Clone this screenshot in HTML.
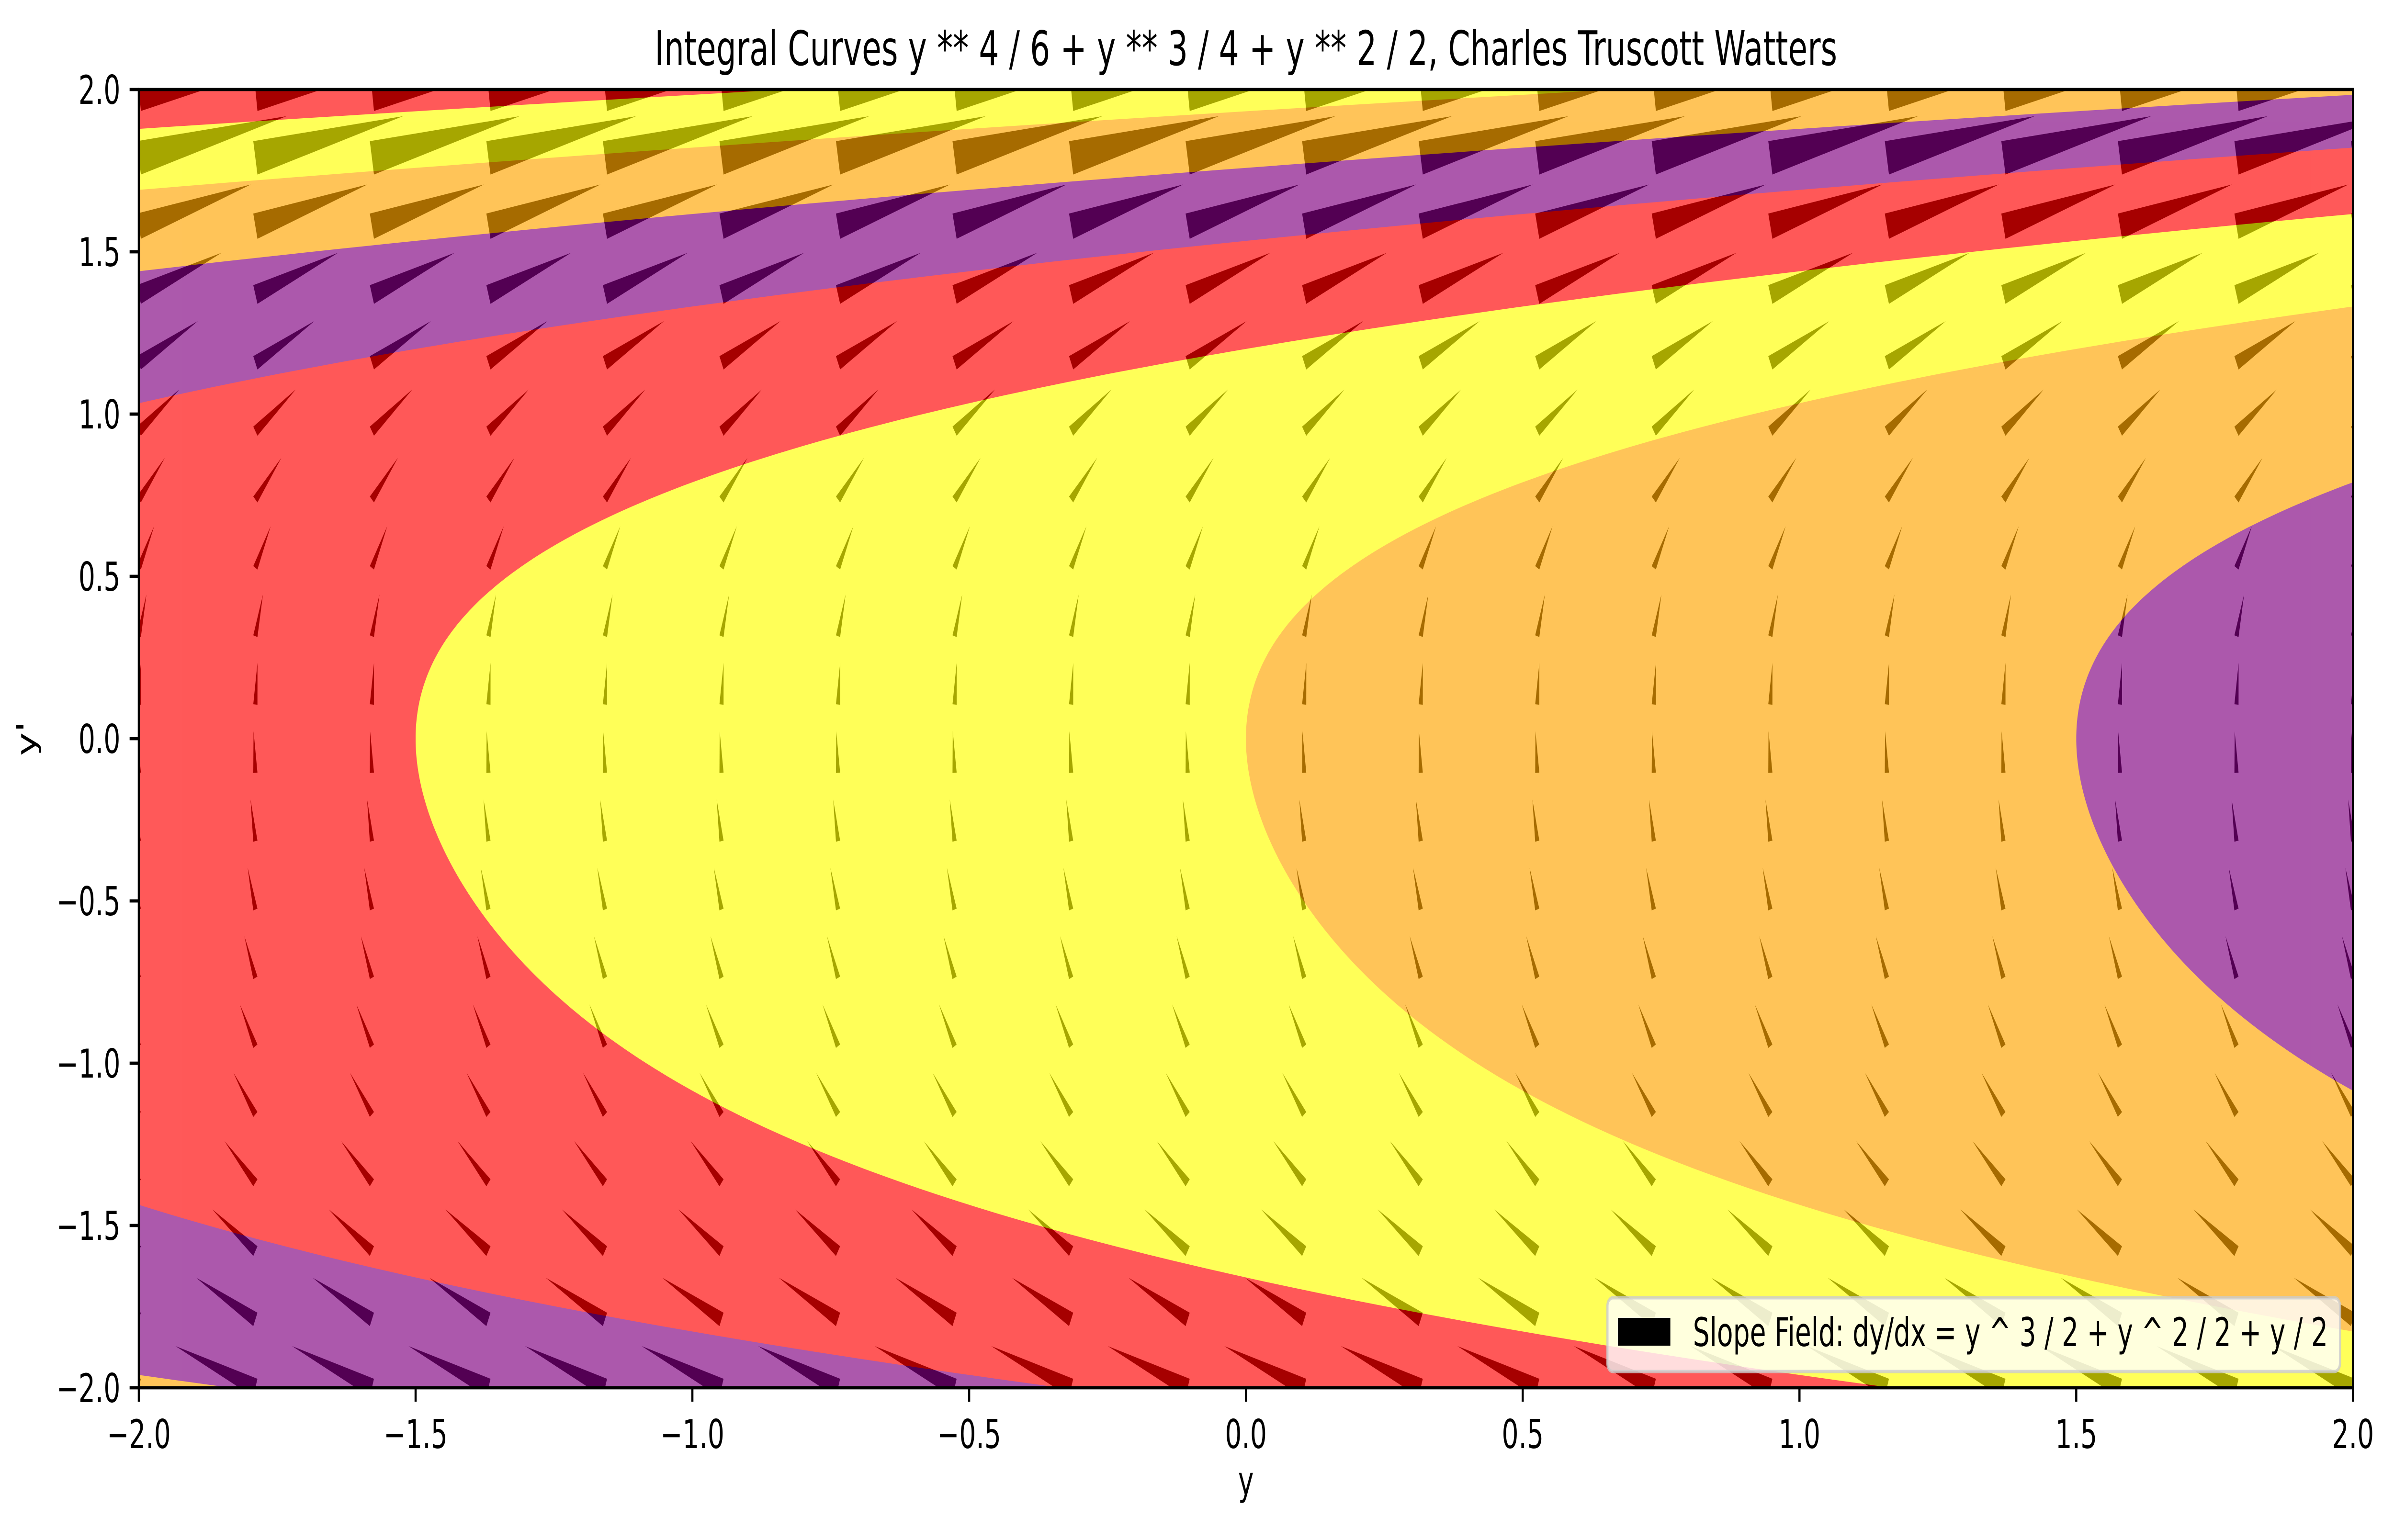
<!DOCTYPE html>
<html><head><meta charset="utf-8"><style>
html,body{margin:0;padding:0;background:#fff;width:100vw;height:100vh;overflow:hidden;}
svg{display:block;width:100vw;height:100vh;font-family:"DejaVu Sans","Liberation Sans",sans-serif;}
</style></head><body>
<svg id="chart" xmlns="http://www.w3.org/2000/svg" viewBox="0 0 7536 3217" preserveAspectRatio="none">
<defs><clipPath id="plotclip"><rect x="437" y="187" width="6970" height="2712"/></clipPath></defs>
<rect x="0" y="0" width="7536" height="3217" fill="#ffffff"/>
<g id="plot" clip-path="url(#plotclip)">
<rect x="437" y="187" width="6970" height="2712" fill="#ffffff"/>
<g id="arrows"></g>
<g id="bands" opacity="0.65"></g>
</g>
<g id="axes"></g>
<text x="3922" y="136" font-size="100" text-anchor="middle">Integral Curves y ** 4 / 6 + y ** 3 / 4 + y ** 2 / 2, Charles Truscott Watters</text>
<text x="3922" y="3122" font-size="83" text-anchor="middle">y</text>
<text x="0" y="0" font-size="83" text-anchor="middle" transform="translate(112,1543) rotate(-90)">y'</text>
<g>
<rect x="5060" y="2711" width="2306" height="154" rx="17" fill="#ffffff" fill-opacity="0.8" stroke="#cccccc" stroke-opacity="0.8" stroke-width="7"/>
<rect x="5093" y="2753" width="165" height="58" fill="#000000"/>
<text x="5329" y="2812" font-size="83">Slope Field: dy/dx = y ^ 3 / 2 + y ^ 2 / 2 + y / 2</text>
</g>
</svg>
<script>
// ---- data ----
const levels = [-3, -1.5, 0, 1.5, 3, 4.5, 6, 7.5, 9];
const bandColors = ["#800080", "#ffa500", "#ffff00", "#ff0000", "#800080", "#ffa500", "#ffff00", "#ff0000"];
const polyCoeffs = [1/6, 1/4, 1/2]; // y^4/6 + y^3/4 + y^2/2
const gridCount = 20;
const xTicks = [-2.0, -1.5, -1.0, -0.5, 0.0, 0.5, 1.0, 1.5, 2.0];
const yTicks = [-2.0, -1.5, -1.0, -0.5, 0.0, 0.5, 1.0, 1.5, 2.0];
const xTickLabels = ["\u22122.0", "\u22121.5", "\u22121.0", "\u22120.5", "0.0", "0.5", "1.0", "1.5", "2.0"];
const yTickLabels = ["\u22122.0", "\u22121.5", "\u22121.0", "\u22120.5", "0.0", "0.5", "1.0", "1.5", "2.0"];
const xDomain = [-2, 2];
const yDomain = [-2, 2];

// ---- geometry ----
const L = 437, R = 7407, T = 187, B = 2899;
const NS = "http://www.w3.org/2000/svg";
function X(v){ return L + (v - xDomain[0]) / (xDomain[1] - xDomain[0]) * (R - L); }
function Y(v){ return B - (v - yDomain[0]) / (yDomain[1] - yDomain[0]) * (B - T); }
function g(p){ return polyCoeffs[0]*p**4 + polyCoeffs[1]*p**3 + polyCoeffs[2]*p**2; }
function gp(p){ return 4*polyCoeffs[0]*p**3 + 3*polyCoeffs[1]*p**2 + 2*polyCoeffs[2]*p; }
function mk(tag, attrs){ const e = document.createElementNS(NS, tag); for (const k in attrs) e.setAttribute(k, attrs[k]); return e; }

// ---- slope field arrows ----
const arrowsG = document.getElementById('arrows');
const sx = 58, sy = 87;
for (let i = 0; i < gridCount; i++) {
  const xv = xDomain[0] + i * (xDomain[1]-xDomain[0]) / (gridCount-1);
  for (let j = 0; j < gridCount; j++) {
    const pv = yDomain[0] + j * (yDomain[1]-yDomain[0]) / (gridCount-1);
    const bx = X(xv), by = Y(pv);
    const dx = sx * gp(pv), dy = -sy;
    const len = Math.hypot(dx, dy);
    const w = 0.075 * len;
    const nx = -dy/len * w, ny = dx/len * w;
    const pts = [[bx+nx, by+ny], [bx+dx, by+dy], [bx-nx, by-ny]].map(q => q[0].toFixed(1)+","+q[1].toFixed(1)).join(" ");
    const a = mk('polygon', {points: pts, fill: '#000000'});
    
    
    arrowsG.appendChild(a);
  }
}

// ---- contour bands ----
const bandsG = document.getElementById('bands');
const base = mk('rect', {x: L, y: T, width: R-L, height: B-T, fill: bandColors[0]});


bandsG.appendChild(base);
for (let k = 1; k < bandColors.length; k++) {
  const lev = levels[k];
  const pts = [];
  const N = 500;
  for (let s = 0; s <= N; s++) {
    const p = yDomain[0] - 0.05 + s * (yDomain[1]-yDomain[0]+0.1) / N;
    let x = g(p) - lev;
    x = Math.max(-2.3, Math.min(2.3, x));
    pts.push(X(x).toFixed(1) + "," + Y(p).toFixed(1));
  }
  pts.push(X(-2.3).toFixed(1) + "," + Y(2.05).toFixed(1));
  pts.push(X(-2.3).toFixed(1) + "," + Y(-2.05).toFixed(1));
  const poly = mk('polygon', {points: pts.join(" "), fill: bandColors[k]});
  
  
  bandsG.appendChild(poly);
}

// ---- axes ----
const axesG = document.getElementById('axes');
xTicks.forEach((v, i) => {
  const t = mk('line', {x1: X(v), x2: X(v), y1: B, y2: B+29, stroke: '#000', 'stroke-width': 6.7});
  
  
  axesG.appendChild(t);
  const lb = mk('text', {x: X(v), y: 3025, 'font-size': 83, 'text-anchor': 'middle'});
  lb.textContent = xTickLabels[i];
  
  
  axesG.appendChild(lb);
});
yTicks.forEach((v, i) => {
  const t = mk('line', {x1: L-29, x2: L, y1: Y(v), y2: Y(v), stroke: '#000', 'stroke-width': 6.7});
  
  
  axesG.appendChild(t);
  const lb = mk('text', {x: 379, y: Y(v) + 30, 'font-size': 83, 'text-anchor': 'end'});
  lb.textContent = yTickLabels[i];
  
  
  axesG.appendChild(lb);
});
const frame = mk('rect', {x: L, y: T, width: R-L, height: B-T, fill: 'none', stroke: '#000', 'stroke-width': 6.7});


axesG.appendChild(frame);
</script>
</body></html>
